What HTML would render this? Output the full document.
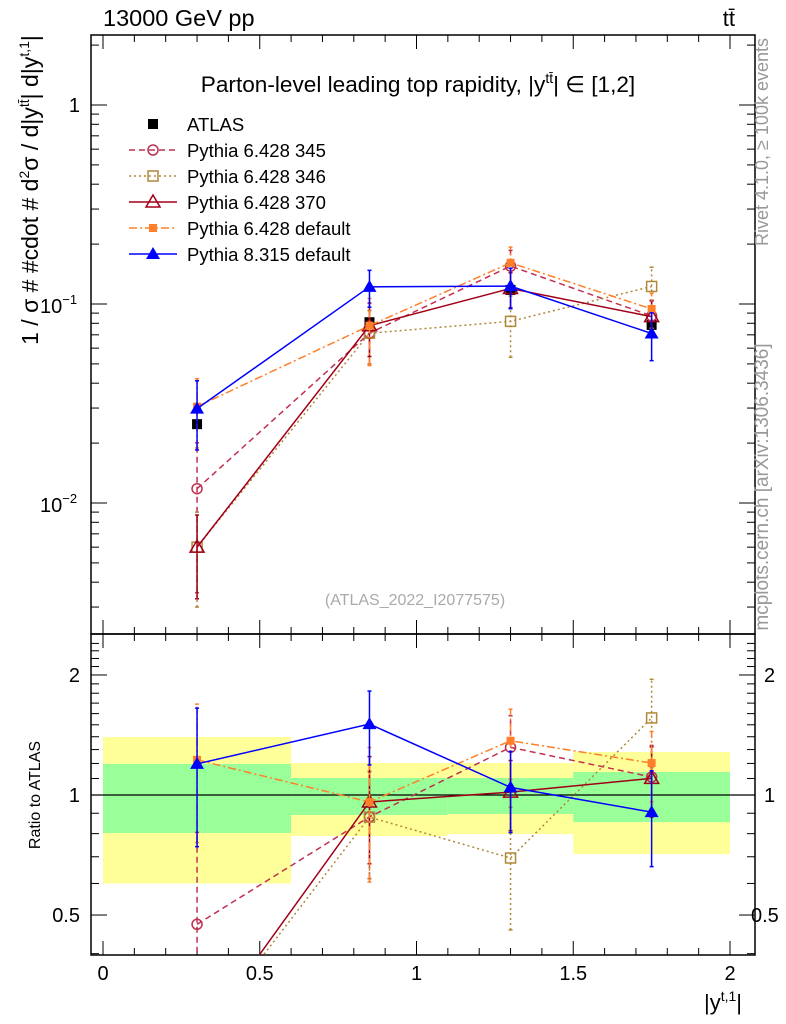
<!DOCTYPE html>
<html><head><meta charset="utf-8"><style>
html,body{margin:0;padding:0;background:#fff;overflow:hidden;}
svg{display:block;font-family:"Liberation Sans",sans-serif;}
</style></head><body>
<svg id="chart" width="786" height="1024" viewBox="0 0 786 1024">
<g id="bands"></g>
<g id="grid"></g>
<g id="series"></g>
<text x="103" y="26" font-size="23.5">13000 GeV pp</text>
<text x="735" y="26" font-size="22" text-anchor="end">tt̄</text>
<text x="418" y="92" font-size="22.6" text-anchor="middle">Parton-level leading top rapidity, |y<tspan font-size="14" dy="-9">tt̄</tspan><tspan dy="9">| ∈ [1,2]</tspan></text>
<text x="415" y="605" font-size="16" fill="#aaa" text-anchor="middle">(ATLAS_2022_I2077575)</text>
<text transform="translate(38,190) rotate(-90)" font-size="23" text-anchor="middle">1 / σ # #cdot # d<tspan font-size="14" dy="-9">2</tspan><tspan dy="9">σ / d|y</tspan><tspan font-size="14" dy="-9">tt̄</tspan><tspan dy="9">| d|y</tspan><tspan font-size="14" dy="-9">t,1</tspan><tspan dy="9">|</tspan></text>
<text transform="translate(40,795) rotate(-90)" font-size="16" text-anchor="middle">Ratio to ATLAS</text>
<text x="742" y="1010" font-size="22" text-anchor="end">|y<tspan font-size="14" dy="-9">t,1</tspan><tspan dy="9">|</tspan></text>
<text transform="translate(768,142) rotate(-90)" font-size="18" fill="#999" text-anchor="middle">Rivet 4.1.0, ≥ 100k events</text>
<text transform="translate(768,487) rotate(-90)" font-size="19" fill="#999" text-anchor="middle">mcplots.cern.ch [arXiv:1306.3436]</text>
<g id="legend"></g>
</svg>
<script>
const xCenters = [0.3, 0.85, 1.3, 1.75];
const binEdges = [0, 0.6, 1.1, 1.5, 2.0];
const atlasVals = [0.0249, 0.081, 0.1177, 0.0785];
const atlasTotLo = [0.60, 0.789, 0.798, 0.711];
const atlasTotHi = [1.398, 1.203, 1.203, 1.282];
const atlasStatLo = [0.803, 0.891, 0.896, 0.855];
const atlasStatHi = [1.196, 1.103, 1.103, 1.142];
const p345 = [0.0118, 0.0714, 0.155, 0.0871];
const p345Err = [0.7, 0.3, 0.2, 0.2];
const p346 = [0.006, 0.0713, 0.0818, 0.1225];
const p346Err = [0.5, 0.3, 0.34, 0.25];
const p370 = [0.006, 0.0778, 0.1197, 0.0864];
const p370Err = [0.45, 0.3, 0.2, 0.2];
const pDef = [0.0305, 0.0778, 0.161, 0.0944];
const pDefErr = [0.38, 0.37, 0.2, 0.2];
const p8 = [0.0298, 0.122, 0.123, 0.0711];
const p8Err = [0.38, 0.21, 0.23, 0.27];
const xTicks = [0, 0.5, 1, 1.5, 2];
const xTickLabels = ["0", "0.5", "1", "1.5", "2"];

const NS = "http://www.w3.org/2000/svg";
const L = 91, R = 755, T = 35, MB = 634, RB = 955;
const X = v => 103 + v * 313.5;
const Y = v => 105 - Math.log10(v) * 199;
const YR = v => 795 - Math.log10(v) * 398.7;
function mk(parent, tag, attrs) {
  const e = document.createElementNS(NS, tag);
  for (const k in attrs) e.setAttribute(k, attrs[k]);
  document.getElementById(parent).appendChild(e);
  return e;
}
for (let i = 0; i < 4; i++) {
  const b1 = mk('bands', 'rect', {x: X(binEdges[i]), y: YR(atlasTotHi[i]), width: X(binEdges[i+1]) - X(binEdges[i]), height: YR(atlasTotLo[i]) - YR(atlasTotHi[i]), fill: '#ffff99'});
  
  
  const b2 = mk('bands', 'rect', {x: X(binEdges[i]), y: YR(atlasStatHi[i]), width: X(binEdges[i+1]) - X(binEdges[i]), height: YR(atlasStatLo[i]) - YR(atlasStatHi[i]), fill: '#99ff99'});
  
  
}
const f1 = mk('grid', 'rect', {x: L, y: T, width: R - L, height: MB - T, fill: 'none', stroke: '#000', 'stroke-width': 1.5});


const f2 = mk('grid', 'rect', {x: L, y: MB, width: R - L, height: RB - MB, fill: 'none', stroke: '#000', 'stroke-width': 1.5});


const one = mk('grid', 'line', {x1: L, x2: R, y1: YR(1), y2: YR(1), stroke: '#000', 'stroke-width': 1.2});


for (let v = 0; v <= 2.0001; v += 0.1) {
  const major = Math.abs(v * 2 - Math.round(v * 2)) < 1e-6;
  const len = major ? 14 : 7;
  for (const [y0, d] of [[RB, -1], [MB, -1], [MB, 1], [T, 1]]) {
    mk('grid', 'line', {x1: X(v), x2: X(v), y1: y0, y2: y0 + d * len, stroke: '#000', 'stroke-width': 1});
  }
}
xTicks.forEach((v, i) => {
  const t = mk('grid', 'text', {x: X(v), y: 980, 'font-size': 20, 'text-anchor': 'middle'});
  t.textContent = xTickLabels[i];
  
  
});
for (let e = -3; e <= 0; e++) {
  for (let m = 1; m <= 9; m++) {
    const v = m * Math.pow(10, e);
    const y = Y(v);
    if (y < T || y > MB) continue;
    const len = m === 1 ? 16 : 8;
    mk('grid', 'line', {x1: L, x2: L + len, y1: y, y2: y, stroke: '#000'});
    mk('grid', 'line', {x1: R, x2: R - len, y1: y, y2: y, stroke: '#000'});
  }
}
const yl1 = mk('grid', 'text', {x: 80, y: Y(1) + 7, 'font-size': 20, 'text-anchor': 'end'});
yl1.textContent = '1';


for (const [e, lbl] of [[-1, '−1'], [-2, '−2']]) {
  const t = mk('grid', 'text', {x: 40, y: Y(Math.pow(10, e)) + 9, 'font-size': 20});
  t.innerHTML = '10<tspan font-size="13" dy="-9">' + lbl + '</tspan>';
  
  
}
for (let v = 0.4; v <= 2.5; v += 0.1) {
  const y = YR(v);
  if (y < MB || y > RB) continue;
  const major = Math.abs(v - 0.5) < 1e-6 || Math.abs(v - 1) < 1e-6 || Math.abs(v - 2) < 1e-6;
  const len = major ? 16 : 8;
  mk('grid', 'line', {x1: L, x2: L + len, y1: y, y2: y, stroke: '#000'});
  mk('grid', 'line', {x1: R, x2: R - len, y1: y, y2: y, stroke: '#000'});
}
for (const v of [0.5, 1, 2]) {
  const t1 = mk('grid', 'text', {x: 80, y: YR(v) + 7, 'font-size': 20, 'text-anchor': 'end'});
  t1.textContent = String(v);
  
  
  const t2 = mk('grid', 'text', {x: v === 0.5 ? 751 : 764, y: YR(v) + 7, 'font-size': 20});
  t2.textContent = String(v);
  
  
}
function marker(g, kind, color, x, y) {
  if (kind === 'sqf') mk(g, 'rect', {x: x - 5, y: y - 5, width: 10, height: 10, fill: color});
  else if (kind === 'sqo') mk(g, 'rect', {x: x - 5, y: y - 5, width: 10, height: 10, fill: 'none', stroke: color, 'stroke-width': 1.5});
  else if (kind === 'circ') mk(g, 'circle', {cx: x, cy: y, r: 5, fill: 'none', stroke: color, 'stroke-width': 1.5});
  else if (kind === 'trio') mk(g, 'polygon', {points: `${x},${y-7} ${x-7},${y+5} ${x+7},${y+5}`, fill: 'none', stroke: color, 'stroke-width': 1.5});
  else if (kind === 'trif') mk(g, 'polygon', {points: `${x},${y-7} ${x-7},${y+5} ${x+7},${y+5}`, fill: color});
  else if (kind === 'sqs') mk(g, 'rect', {x: x - 4, y: y - 4, width: 8, height: 8, fill: color});
}
mk('series', 'clipPath', {id: 'cm'});
mk('cm', 'rect', {x: L, y: T, width: R - L, height: MB - T});
mk('series', 'clipPath', {id: 'cr'});
mk('cr', 'rect', {x: L, y: MB, width: R - L, height: RB - MB});
const seriesDefs = [
  {id: 's345', vals: p345, err: p345Err, color: '#c03050', dash: '6,4', kind: 'circ', name: 'pythia-6428-345'},
  {id: 's346', vals: p346, err: p346Err, color: '#b08838', dash: '2,3', kind: 'sqo', name: 'pythia-6428-346'},
  {id: 's370', vals: p370, err: p370Err, color: '#a00018', dash: '', kind: 'trio', name: 'pythia-6428-370'},
  {id: 'sdef', vals: pDef, err: pDefErr, color: '#ff7f2a', dash: '8,3,2,3', kind: 'sqs', name: 'pythia-6428-default'},
  {id: 'sp8', vals: p8, err: p8Err, color: '#0000ff', dash: '', kind: 'trif', name: 'pythia-8315-default'}
];
const ga = mk('series', 'g', {id: 'atlas', 'clip-path': 'url(#cm)'});


atlasVals.forEach((v, i) => marker('atlas', 'sqf', '#000', X(xCenters[i]), Y(v)));
seriesDefs.forEach(s => {
  for (const panel of ['m', 'r']) {
    const gid = s.id + panel;
    const g = mk('series', 'g', {id: gid, 'clip-path': panel === 'm' ? 'url(#cm)' : 'url(#cr)'});
    
    
    const pv = s.vals.map((v, i) => panel === 'm' ? v : v / atlasVals[i]);
    const ymap = panel === 'm' ? Y : YR;
    const pts = pv.map((v, i) => X(xCenters[i]) + ',' + ymap(v)).join(' ');
    mk(gid, 'polyline', {points: pts, fill: 'none', stroke: s.color, 'stroke-width': 1.5, 'stroke-dasharray': s.dash});
    pv.forEach((v, i) => {
      const x = X(xCenters[i]);
      const lo = Math.max(v * (1 - s.err[i]), 1e-4), hi = v * (1 + s.err[i]);
      mk(gid, 'line', {x1: x, x2: x, y1: ymap(lo), y2: ymap(hi), stroke: s.color, 'stroke-width': 1.5, 'stroke-dasharray': s.dash});
      mk(gid, 'line', {x1: x - 2, x2: x + 2, y1: ymap(hi), y2: ymap(hi), stroke: s.color, 'stroke-width': 1.5});
      mk(gid, 'line', {x1: x - 2, x2: x + 2, y1: ymap(lo), y2: ymap(lo), stroke: s.color, 'stroke-width': 1.5});
      marker(gid, s.kind, s.color, x, ymap(v));
    });
  }
});
const legendLabels = ['ATLAS', 'Pythia 6.428 345', 'Pythia 6.428 346', 'Pythia 6.428 370', 'Pythia 6.428 default', 'Pythia 8.315 default'];
legendLabels.forEach((lbl, i) => {
  const y = 124 + i * 26;
  const gid = 'leg' + i;
  const g = mk('legend', 'g', {id: gid});
  
  
  if (i === 0) marker(gid, 'sqf', '#000', 153, y);
  else {
    const s = seriesDefs[i - 1];
    mk(gid, 'line', {x1: 129, x2: 177, y1: y, y2: y, stroke: s.color, 'stroke-width': 1.5, 'stroke-dasharray': s.dash});
    marker(gid, s.kind, s.color, 153, y);
  }
  const t = mk(gid, 'text', {x: 187, y: y + 7, 'font-size': 18.5});
  t.textContent = lbl;
});
</script>
</body></html>
